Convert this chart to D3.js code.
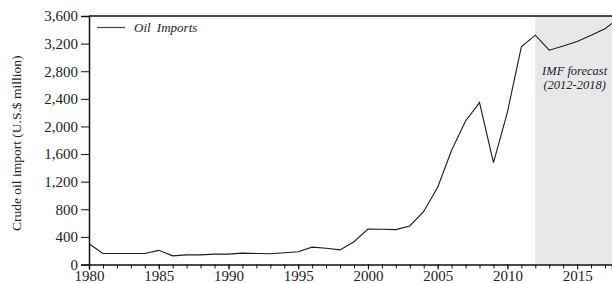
<!DOCTYPE html>
<html>
<head>
<meta charset="utf-8">
<script src="https://cdn.jsdelivr.net/npm/d3@7"></script>
<style>
  body { margin: 0; background: #fff; }
  text { font-family: "Liberation Serif", "DejaVu Serif", serif; fill: #222; }
</style>
</head>
<body>
<div id="chart"></div>
<script>
var width = 612;
var height = 283;

// Oil imports per year, U.S.$ million (2012-2018 = IMF forecast)
var years = [1980, 1981, 1982, 1983, 1984, 1985, 1986, 1987, 1988, 1989,
             1990, 1991, 1992, 1993, 1994, 1995, 1996, 1997, 1998, 1999,
             2000, 2001, 2002, 2003, 2004, 2005, 2006, 2007, 2008, 2009,
             2010, 2011, 2012, 2013, 2014, 2015, 2016, 2017, 2018];
var imports = [300, 160, 160, 160, 160, 205, 125, 140, 140, 150,
               150, 165, 160, 155, 170, 185, 252, 235, 212, 330,
               512, 510, 505, 558, 768, 1120, 1655, 2080, 2345, 1475,
               2205, 3152, 3322, 3105, 3165, 3232, 3320, 3415, 3570];
var yTicks = [0, 400, 800, 1200, 1600, 2000, 2400, 2800, 3200, 3600];
var xTicks = [1980, 1985, 1990, 1995, 2000, 2005, 2010, 2015];
var forecastStart = 2012;

var margin = {top: 16, right: 0, bottom: 18, left: 89};

var svg = d3.select('#chart')
  .append('svg')
    .attr('width', width)
    .attr('height', height);

var x = d3.scaleLinear()
  .domain([1980, 2017.5])
  .range([margin.left, width - margin.right]);

var y = d3.scaleLinear()
  .domain([0, 3600])
  .range([height - margin.bottom - 0.5, margin.top]);

// forecast shading
svg.append('rect')
  .attr('x', x(forecastStart))
  .attr('y', y(3600))
  .attr('width', x.range()[1] - x(forecastStart))
  .attr('height', y(0) - y(3600))
  .attr('fill', '#e8e8ea');

// data line
var line = d3.line()
  .x(function(d, i) { return x(years[i]); })
  .y(function(d) { return y(d); });

svg.append('defs').append('clipPath').attr('id', 'clip')
  .append('rect')
    .attr('x', x.range()[0]).attr('y', 0)
    .attr('width', x.range()[1] - x.range()[0]).attr('height', height);

svg.append('path')
  .datum(imports)
  .attr('clip-path', 'url(#clip)')
  .attr('fill', 'none')
  .attr('stroke', '#1a1a1a')
  .attr('stroke-width', 1.1)
  .attr('d', line);

// y axis
var yAxis = svg.append('g')
  .attr('transform', 'translate(' + margin.left + ',0)')
  .call(d3.axisLeft(y).tickValues(yTicks).tickSize(8).tickPadding(3)
    .tickFormat(d3.format(',')));
yAxis.select('.domain').attr('stroke', '#111').attr('stroke-width', 1.5);
yAxis.selectAll('.tick line').attr('stroke', '#111');
yAxis.selectAll('text').style('font-size', '15px').attr('fill', '#222');

// x axis: minor ticks every year, labels every 5
var xAxisMinor = svg.append('g')
  .attr('transform', 'translate(0,' + y(0) + ')')
  .call(d3.axisBottom(x).tickValues(years.filter(function(d) { return d <= 2017.5; }))
    .tickSize(4).tickFormat(''));
xAxisMinor.select('.domain').remove();
xAxisMinor.selectAll('.tick line').attr('stroke', '#111');

var xAxis = svg.append('g')
  .attr('transform', 'translate(0,' + y(0) + ')')
  .call(d3.axisBottom(x).tickValues(xTicks).tickSize(5)
    .tickFormat(d3.format('d')));
xAxis.select('.domain').attr('stroke', '#111').attr('stroke-width', 1.5);
xAxis.selectAll('.tick line').attr('stroke', '#111');
xAxis.selectAll('text')
  .attr('y', 16.5).attr('dy', null)
  .style('font-size', '15px').attr('fill', '#222');

// top frame
svg.append('line')
  .attr('x1', x.range()[0]).attr('x2', x.range()[1])
  .attr('y1', y(3600)).attr('y2', y(3600))
  .attr('stroke', '#111').attr('stroke-width', 1.5);

// y label
svg.append('text')
  .attr('transform', 'translate(21,' + ((y(0) + y(3600)) / 2 + 3) + ') rotate(-90)')
  .attr('text-anchor', 'middle')
  .style('font-size', '13.5px')
  .text('Crude oil import (U.S.$ million)');

// legend
svg.append('line')
  .attr('x1', 97).attr('x2', 125)
  .attr('y1', 27.5).attr('y2', 27.5)
  .attr('stroke', '#444').attr('stroke-width', 1.2);
svg.append('text')
  .attr('x', 134).attr('y', 31.5)
  .style('font-size', '13px').style('font-style', 'italic')
  .style('word-spacing', '3px')
  .text('Oil Imports');

// forecast note
var noteX = (x(forecastStart) + x.range()[1]) / 2 + 1;
svg.append('text')
  .attr('x', noteX).attr('y', 75)
  .attr('text-anchor', 'middle')
  .style('font-size', '12.5px').style('font-style', 'italic')
  .text('IMF forecast');
svg.append('text')
  .attr('x', noteX).attr('y', 89)
  .attr('text-anchor', 'middle')
  .style('font-size', '12.5px').style('font-style', 'italic')
  .text('(2012-2018)');
</script>
</body>
</html>
